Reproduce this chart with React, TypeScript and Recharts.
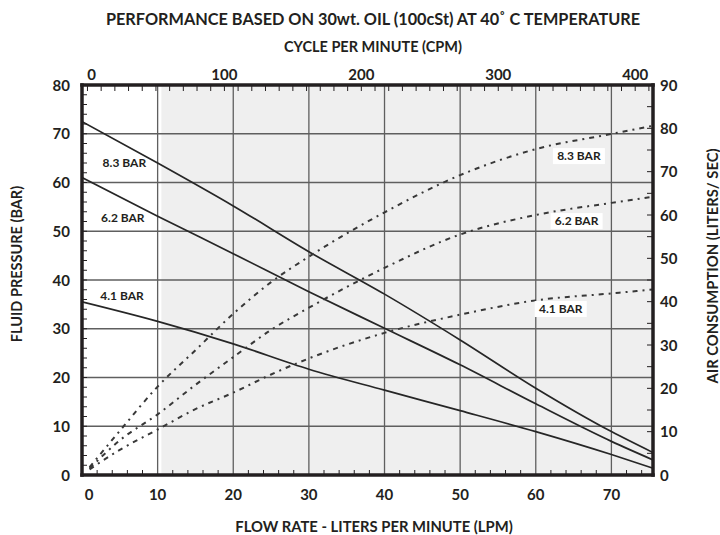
import React from 'react';
import { LineChart, Line, XAxis, YAxis, ReferenceLine, ReferenceArea, ReferenceDot } from 'recharts';

// ---- data ----
const lpmSolid = [0, 10, 20, 30, 40, 50, 60, 70, 75.5];
const bar83 = [72.5, 64.0, 55.2, 45.8, 37.1, 27.7, 17.8, 8.9, 4.6];
const bar62 = [61.0, 53.1, 45.4, 37.6, 30.1, 22.6, 14.6, 6.9, 3.1];
const bar41 = [35.5, 31.5, 26.9, 21.7, 17.4, 13.2, 8.9, 4.2, 1.4];

const lpmAir = [1, 5, 10, 15, 20, 25, 30, 40, 50, 60, 70, 75.5];
const air83 = [1.8, 10.2, 20.4, 28.8, 37.2, 44.5, 50.4, 60.6, 69.2, 75.2, 78.7, 80.6];
const air62 = [1.5, 8.0, 14.0, 20.8, 27.2, 33.5, 38.6, 47.8, 55.5, 60.0, 62.8, 64.2];
const air41 = [1.3, 5.8, 10.5, 15.2, 19.0, 23.2, 26.9, 32.8, 37.0, 40.3, 41.9, 42.8];

const seriesNames = ['8.3 BAR', '6.2 BAR', '4.1 BAR'];

// tick labels
const lpmLabels = [0, 10, 20, 30, 40, 50, 60, 70];
const barLabels = [0, 10, 20, 30, 40, 50, 60, 70, 80];
const airLabels = [0, 10, 20, 30, 40, 50, 60, 70, 80, 90];
const cpmLabels = [0, 100, 200, 300, 400];
const gridLpm = [10, 20, 30, 40, 50, 60, 70];
const gridBar = [10, 20, 30, 40, 50, 60, 70];

const steps = (from: number, to: number, step: number) => {
  const out: number[] = [];
  for (let v = from; v <= to + 1e-9; v += step) out.push(v);
  return out;
};
const lpmTicks = steps(0, 74, 2);
const barTicks = steps(0, 80, 2);
const airTicks = steps(0, 90, 5);
const cpmTicks = steps(0, 410, 10);

const toPts = (xs: number[], ys: number[]) => xs.map((x, i) => ({ x, y: ys[i] }));

const FONT = 'Lato, "Open Sans", sans-serif';
const INK = '#231f20';
const TICK_FS = 15;

const BottomTick = (p: any) => {
  const { x, y, payload } = p;
  const v = payload.value;
  const major = lpmLabels.includes(v);
  return (
    <g>
      {!gridLpm.includes(v) && v !== 0 && <line x1={x} x2={x} y1={y} y2={y - 5} stroke={INK} strokeWidth={1} />}
      {major && (
        <text x={x + (v === 0 ? 7 : 0)} y={y + 25} textAnchor="middle" fontFamily={FONT} fontWeight={700} fontSize={TICK_FS} fill={INK}>
          {v}
        </text>
      )}
    </g>
  );
};

const TopTick = (p: any) => {
  const { x, y, payload } = p;
  const v = payload.value;
  const major = cpmLabels.includes(v);
  return (
    <g>
      <line x1={x} x2={x} y1={y} y2={y + 6} stroke={INK} strokeWidth={1} />
      {major && (
        <text x={x + (v === 0 ? 4 : 0)} y={y - 5} textAnchor="middle" fontFamily={FONT} fontWeight={700} fontSize={TICK_FS} fill={INK}>
          {v}
        </text>
      )}
    </g>
  );
};

const LeftTick = (p: any) => {
  const { x, y, payload } = p;
  const v = payload.value;
  const major = barLabels.includes(v);
  return (
    <g>
      {v !== 0 && v !== 80 && <line x1={x} x2={x + 5} y1={y} y2={y} stroke={INK} strokeWidth={1} />}
      {major && (
        <text x={x - 12} y={y + 5.5} textAnchor="end" fontFamily={FONT} fontWeight={700} fontSize={TICK_FS} fill={INK}>
          {v}
        </text>
      )}
    </g>
  );
};

const RightTick = (p: any) => {
  const { x, y, payload } = p;
  const v = payload.value;
  const major = airLabels.includes(v);
  return (
    <g>
      {v !== 0 && v !== 90 && <line x1={x} x2={x - 6} y1={y} y2={y} stroke={INK} strokeWidth={1} />}
      {major && (
        <text x={x + 7} y={y + 5.5} textAnchor="start" fontFamily={FONT} fontWeight={700} fontSize={TICK_FS} fill={INK}>
          {v}
        </text>
      )}
    </g>
  );
};

const makeLabel = (text: string, bg: boolean) => (props: any) => {
  const vb = props.viewBox || {};
  const cx = (vb.x || 0) + (vb.width || 0) / 2;
  const cy = (vb.y || 0) + (vb.height || 0) / 2;
  return (
    <g>
      {bg && <rect x={cx - 26} y={cy - 8} width={52} height={16} fill="#ffffff" />}
      <text x={cx} y={cy + 4} textAnchor="middle" fontFamily={FONT} fontWeight={700} fontSize={12} fill={INK}>
        {text}
      </text>
    </g>
  );
};

const leftLabelPos = [
  { x: 5.6, y: 64 },
  { x: 5.4, y: 52.8 },
  { x: 5.3, y: 36.7 },
];
const rightLabelPos = [
  { x: 65.7, y: 73.6 },
  { x: 65.4, y: 58.6 },
  { x: 63.3, y: 38.3 },
];

const axisLine = { stroke: INK, strokeWidth: 3.5, strokeLinecap: 'square' as const };

export default function App() {
  const solid = [toPts(lpmSolid, bar83), toPts(lpmSolid, bar62), toPts(lpmSolid, bar41)];
  const air = [toPts(lpmAir, air83), toPts(lpmAir, air62), toPts(lpmAir, air41)];
  return (
    <div style={{ position: 'absolute', left: 0, top: 0, width: 720, height: 535, background: '#fff' }}>
      <LineChart width={720} height={535} margin={{ top: 65, bottom: 30, left: 42, right: 27 }}>
        <XAxis
          xAxisId="lpm"
          dataKey="x"
          type="number"
          domain={[0, 75.5]}
          allowDataOverflow
          orientation="bottom"
          height={30}
          ticks={lpmTicks}
          interval={0}
          tick={<BottomTick />}
          tickLine={false}
          tickSize={0}
          tickMargin={0}
          axisLine={axisLine}
        />
        <XAxis
          xAxisId="cpm"
          dataKey="x"
          type="number"
          domain={[-4, 413]}
          allowDataOverflow
          orientation="top"
          height={20}
          ticks={cpmTicks}
          interval={0}
          tick={<TopTick />}
          tickLine={false}
          tickSize={0}
          tickMargin={0}
          axisLine={axisLine}
        />
        <YAxis
          yAxisId="bar"
          orientation="left"
          type="number"
          domain={[0, 80]}
          allowDataOverflow
          width={40}
          ticks={barTicks}
          interval={0}
          tick={<LeftTick />}
          tickLine={false}
          tickSize={0}
          tickMargin={0}
          axisLine={axisLine}
        />
        <YAxis
          yAxisId="air"
          orientation="right"
          type="number"
          domain={[0, 90]}
          allowDataOverflow
          width={40}
          ticks={airTicks}
          interval={0}
          tick={<RightTick />}
          tickLine={false}
          tickSize={0}
          tickMargin={0}
          axisLine={axisLine}
        />
        <ReferenceArea xAxisId="lpm" yAxisId="bar" x1={10.5} x2={75.5} y1={0} y2={80} fill="#efefef" fillOpacity={1} stroke="none" />
        {gridLpm.map((v) => (
          <ReferenceLine key={'gx' + v} xAxisId="lpm" yAxisId="bar" x={v} stroke="#5f5f5f" strokeWidth={1.3} />
        ))}
        {gridBar.map((v) => (
          <ReferenceLine key={'gy' + v} xAxisId="lpm" yAxisId="bar" y={v} stroke="#5f5f5f" strokeWidth={1.3} />
        ))}
        {solid.map((d, i) => (
          <Line
            key={'s' + i}
            xAxisId="lpm"
            yAxisId="bar"
            data={d}
            dataKey="y"
            type="monotone"
            stroke="#262626"
            strokeWidth={1.7}
            dot={false}
            activeDot={false}
            isAnimationActive={false}
            name={seriesNames[i]}
          />
        ))}
        {air.map((d, i) => (
          <Line
            key={'a' + i}
            xAxisId="lpm"
            yAxisId="air"
            data={d}
            dataKey="y"
            type="monotone"
            stroke="#383838"
            strokeWidth={2}
            strokeDasharray="5 5 2 5"
            dot={false}
            activeDot={false}
            isAnimationActive={false}
            name={seriesNames[i] + ' air'}
          />
        ))}
        {leftLabelPos.map((p, i) => (
          <ReferenceDot key={'ll' + i} xAxisId="lpm" yAxisId="bar" x={p.x} y={p.y} r={0} fill="none" stroke="none" label={{ content: makeLabel(seriesNames[i], false) }} />
        ))}
        {rightLabelPos.map((p, i) => (
          <ReferenceDot key={'rl' + i} xAxisId="lpm" yAxisId="air" x={p.x} y={p.y} r={0} fill="none" stroke="none" label={{ content: makeLabel(seriesNames[i], true) }} />
        ))}
      </LineChart>
      <svg width={720} height={535} style={{ position: 'absolute', left: 0, top: 0, pointerEvents: 'none' }}>
        <text x={373} y={25} textAnchor="middle" fontFamily={FONT} fontWeight={700} fontSize={16.3} fill={INK}>
          PERFORMANCE BASED ON 30wt. OIL (100cSt) AT 40˚ C TEMPERATURE
        </text>
        <text x={373} y={52} textAnchor="middle" fontFamily={FONT} fontWeight={700} fontSize={14.5} fill={INK}>
          CYCLE PER MINUTE (CPM)
        </text>
        <text x={374} y={532} textAnchor="middle" fontFamily={FONT} fontWeight={700} fontSize={14.8} fill={INK}>
          FLOW RATE - LITERS PER MINUTE (LPM)
        </text>
        <text x={0} y={0} transform="translate(22,264) rotate(-90)" textAnchor="middle" fontFamily={FONT} fontWeight={700} fontSize={14.5} fill={INK}>
          FLUID PRESSURE (BAR)
        </text>
        <text x={0} y={0} transform="translate(718,266) rotate(-90)" textAnchor="middle" fontFamily={FONT} fontWeight={700} fontSize={14.8} fill={INK}>
          AIR CONSUMPTION  (LITERS/ SEC)
        </text>
      </svg>
    </div>
  );
}
